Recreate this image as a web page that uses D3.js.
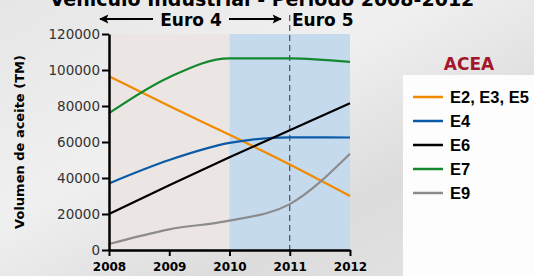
<!DOCTYPE html>
<html>
<head>
<meta charset="utf-8">
<script src="https://cdn.jsdelivr.net/npm/d3@7"></script>
<style>
  html, body { margin: 0; padding: 0; overflow: hidden; }
  svg { display: block; }
</style>
</head>
<body>
<svg id="chart"></svg>
<script>
// data
let years = [2008, 2009, 2010, 2011, 2012]
let yTicks = [0, 20000, 40000, 60000, 80000, 100000, 120000]
let seriesNames = ['E2, E3, E5', 'E4', 'E6', 'E7', 'E9']
let seriesColors = ['#f28a00', '#0a5aa8', '#000000', '#13882f', '#8c8c8c']
let valsE2E3E5 = [96500, 80000, 64000, 47500, 30000]
let valsE4 = [37000, 50000, 59500, 62600, 62500]
let valsE6 = [20000, 36000, 51500, 66500, 81500]
let valsE7 = [76000, 96000, 106500, 106500, 104500]
let valsE9 = [3300, 11500, 16300, 25500, 53500]
let allVals = [valsE2E3E5, valsE4, valsE6, valsE7, valsE9]

let W = 534, H = 276
let svg = d3.select('#chart').attr('width', W).attr('height', H)

// background
let defs = svg.append('defs')
let bg = defs.append('linearGradient').attr('id', 'bg')
    .attr('x1', 0).attr('y1', 0).attr('x2', 1).attr('y2', 1)
bg.append('stop').attr('offset', 0).attr('stop-color', '#e6e6e6')
bg.append('stop').attr('offset', 0.4).attr('stop-color', '#f0f0f0')
bg.append('stop').attr('offset', 0.7).attr('stop-color', '#dcdcdc')
bg.append('stop').attr('offset', 1).attr('stop-color', '#e4e4e4')
svg.append('rect').attr('width', W).attr('height', H).attr('fill', 'url(#bg)')

let x = d3.scaleLinear().domain([2008, 2012]).range([109, 350])
let y = d3.scaleLinear().domain([0, 120000]).range([250, 34])

// shaded periods
svg.append('rect')
    .attr('x', x(2008)).attr('y', y(120000))
    .attr('width', x(2010) - x(2008)).attr('height', y(0) - y(120000))
    .attr('fill', '#ebe6e3')
svg.append('rect')
    .attr('x', x(2010)).attr('y', y(120000))
    .attr('width', x(2012) - x(2010)).attr('height', y(0) - y(120000))
    .attr('fill', '#c6daee')

// dashed divider at 2011
svg.append('line')
    .attr('x1', x(2011)).attr('x2', x(2011))
    .attr('y1', 15).attr('y2', y(0))
    .attr('stroke', '#333').attr('stroke-width', 1)
    .attr('stroke-dasharray', '6,4')

// title (cut at the top)
svg.append('text')
    .attr('x', 262).attr('y', 6)
    .attr('text-anchor', 'middle')
    .attr('font-family', 'DejaVu Sans').attr('font-weight', 'bold')
    .attr('font-size', 19)
    .text('Vehículo Industrial - Período 2008-2012')

// Euro 4 / Euro 5 labels with arrows
defs.append('marker').attr('id', 'ah')
    .attr('viewBox', '0 0 10 10').attr('refX', 9).attr('refY', 5)
    .attr('markerWidth', 6.5).attr('markerHeight', 4.2)
    .attr('orient', 'auto-start-reverse')
    .append('path').attr('d', 'M0,0 L10,5 L0,10 L2,5 Z').attr('fill', '#000')
svg.append('line')
    .attr('x1', 100).attr('x2', 153).attr('y1', 19).attr('y2', 19)
    .attr('stroke', '#000').attr('stroke-width', 2.2)
    .attr('marker-start', 'url(#ah)')
svg.append('line')
    .attr('x1', 229).attr('x2', 281).attr('y1', 19).attr('y2', 19)
    .attr('stroke', '#000').attr('stroke-width', 2.2)
    .attr('marker-end', 'url(#ah)')
svg.append('text')
    .attr('x', 191).attr('y', 26).attr('text-anchor', 'middle')
    .attr('font-family', 'DejaVu Sans').attr('font-weight', 'bold')
    .attr('font-size', 17).text('Euro 4')
svg.append('text')
    .attr('x', 292).attr('y', 26)
    .attr('font-family', 'DejaVu Sans').attr('font-weight', 'bold')
    .attr('font-size', 17).text('Euro 5')

// lines
let line = d3.line()
    .x((d, i) => x(years[i]))
    .y(d => y(d))
    .curve(d3.curveMonotoneX)
svg.selectAll('path.series').data(allVals).enter().append('path')
    .attr('class', 'series')
    .attr('d', d => line(d))
    .attr('fill', 'none')
    .attr('stroke', (d, i) => seriesColors[i])
    .attr('stroke-width', 2.2)

// axes
let yAxis = svg.append('g')
    .attr('transform', 'translate(' + x(2008) + ',0)')
    .call(d3.axisLeft(y).tickValues(yTicks).tickFormat(d3.format('d')).tickSize(7).tickSizeOuter(0))
yAxis.select('.domain').attr('stroke-width', 2.5)
yAxis.selectAll('.tick line').attr('stroke-width', 2)
yAxis.selectAll('text')
    .attr('font-family', 'DejaVu Sans').attr('font-size', 13.5)
    .attr('fill', '#333').attr('x', -9)

let xAxis = svg.append('g')
    .attr('transform', 'translate(0,' + y(0) + ')')
    .call(d3.axisBottom(x).tickValues(years).tickFormat(d3.format('d')).tickSize(6).tickSizeOuter(0))
xAxis.select('.domain').attr('stroke-width', 2.5)
xAxis.selectAll('.tick line').attr('stroke-width', 2)
xAxis.selectAll('text')
    .attr('font-family', 'DejaVu Sans').attr('font-weight', 'bold')
    .attr('font-size', 12).attr('fill', '#000').attr('y', 12)

// y axis title
svg.append('text')
    .attr('transform', 'translate(24,' + y(60000) + ') rotate(-90)')
    .attr('text-anchor', 'middle')
    .attr('font-family', 'DejaVu Sans').attr('font-weight', 'bold')
    .attr('font-size', 13).text('Volumen de aceite (TM)')

// legend
svg.append('text')
    .attr('x', 469).attr('y', 70).attr('text-anchor', 'middle')
    .attr('font-family', 'DejaVu Sans').attr('font-weight', 'bold')
    .attr('font-size', 17).attr('fill', '#a3162c').text('ACEA')
svg.append('rect')
    .attr('x', 403).attr('y', 75).attr('width', W - 403).attr('height', H - 75)
    .attr('fill', '#ffffff').attr('opacity', 0.92)
let leg = svg.selectAll('g.leg').data(seriesNames).enter().append('g')
    .attr('class', 'leg')
    .attr('transform', (d, i) => 'translate(413,' + (97 + i * 24) + ')')
leg.append('line').attr('x1', 0).attr('x2', 30)
    .attr('stroke', (d, i) => seriesColors[i]).attr('stroke-width', 2.5)
leg.append('text').attr('x', 37).attr('y', 6)
    .attr('font-family', 'Liberation Sans').attr('font-weight', 'bold')
    .attr('font-size', 16.5).text(d => d)
</script>
</body>
</html>
